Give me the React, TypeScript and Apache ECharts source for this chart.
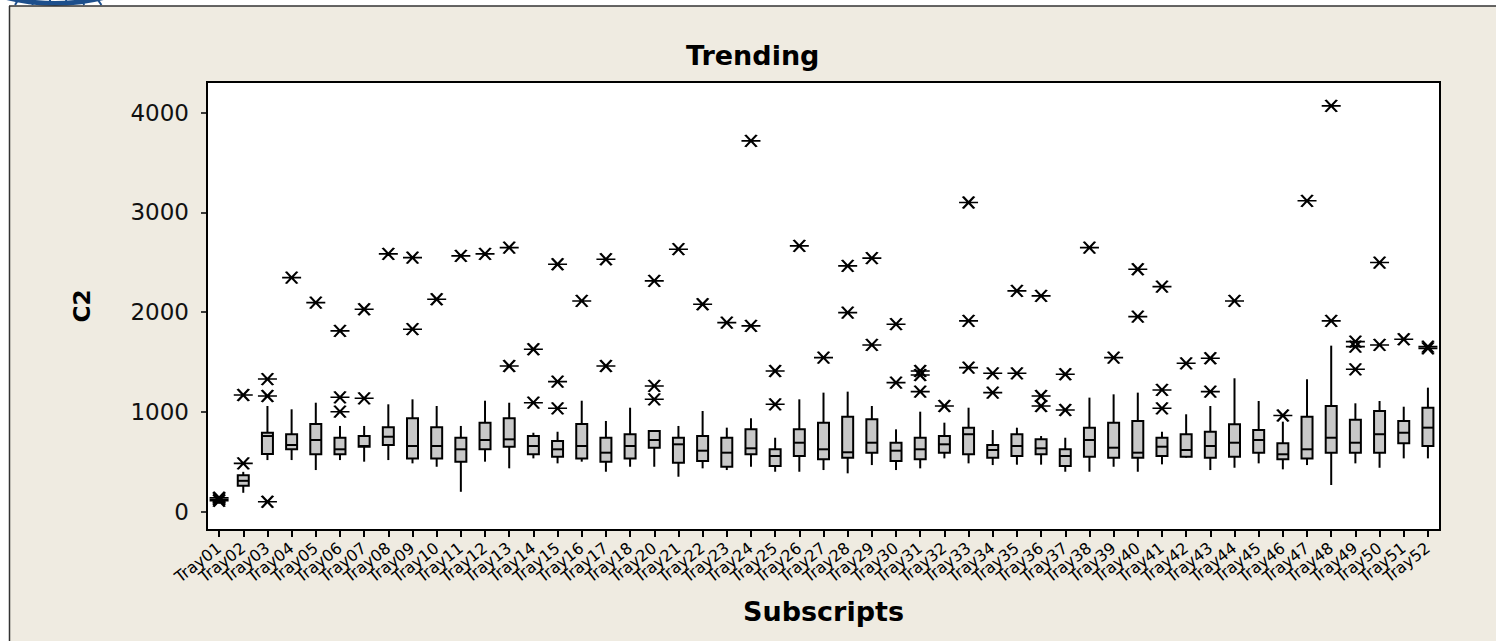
import React, { useEffect, useRef } from "react";
import * as echarts from "echarts";

const categories = [
  "Tray01", "Tray02", "Tray03", "Tray04", "Tray05", "Tray06", "Tray07", "Tray08", "Tray09", "Tray10",
  "Tray11", "Tray12", "Tray13", "Tray14", "Tray15", "Tray16", "Tray17", "Tray18", "Tray20", "Tray21",
  "Tray22", "Tray23", "Tray24", "Tray25", "Tray26", "Tray27", "Tray28", "Tray29", "Tray30", "Tray31",
  "Tray32", "Tray33", "Tray34", "Tray35", "Tray36", "Tray37", "Tray38", "Tray39", "Tray40", "Tray41",
  "Tray42", "Tray43", "Tray44", "Tray45", "Tray46", "Tray47", "Tray48", "Tray49", "Tray50", "Tray51",
  "Tray52",
];

const lows = [
  80, 190, 518, 518, 418, 518, 502, 518, 485, 451,
  200, 502, 435, 535, 485, 502, 401, 451, 451, 351,
  435, 418, 451, 401, 401, 418, 385, 468, 418, 435,
  535, 485, 468, 472, 472, 401, 401, 451, 401, 475,
  542, 418, 441, 485, 425, 468, 268, 485, 441, 535,
  535,
];
const q1s = [
  95, 260, 579, 626, 576, 576, 652, 669, 535, 535,
  502, 626, 652, 576, 552, 535, 502, 535, 642, 492,
  509, 451, 576, 458, 559, 525, 542, 592, 509, 525,
  592, 576, 542, 559, 576, 458, 552, 542, 542, 559,
  552, 542, 552, 592, 525, 535, 592, 592, 592, 686,
  659,
];
const medians = [
  105, 310, 759, 669, 719, 626, 659, 752, 659, 659,
  626, 719, 726, 659, 626, 659, 592, 659, 719, 676,
  612, 592, 636, 559, 692, 626, 596, 692, 612, 626,
  676, 777, 619, 659, 636, 559, 719, 642, 592, 652,
  619, 659, 692, 719, 576, 626, 742, 692, 777, 792,
  843,
];
const q3s = [
  115, 365, 792, 777, 880, 742, 759, 847, 937, 847,
  742, 893, 937, 759, 709, 880, 742, 777, 810, 742,
  759, 742, 826, 626, 826, 893, 953, 927, 692, 742,
  759, 843, 669, 777, 726, 626, 843, 893, 910, 742,
  777, 802, 876, 819, 686, 953, 1060, 923, 1010, 910,
  1043,
];
const highs = [
  125, 400, 1060, 1027, 1093, 860, 860, 1077, 1127, 1060,
  860, 1113, 1093, 792, 802, 1113, 910, 1043, 810, 860,
  1010, 843, 937, 742, 1127, 1194, 1204, 1060, 826, 1003,
  893, 1043, 819, 843, 759, 742, 1144, 1177, 1194, 802,
  977, 1060, 1338, 1110, 903, 1328, 1665, 1087, 1110, 1053,
  1244,
];
const outliers: number[][] = [
  [110, 125, 140], [485, 1170], [100, 1160, 1330], [2347], [2096],
  [1003, 1147, 1813], [1137, 2030], [2585], [1830, 2547], [2130],
  [2565], [2585], [1461, 2648], [1093, 1629], [1037, 1304, 2481],
  [2113], [1461, 2531], [], [1127, 1261, 2314], [2632],
  [2080], [1896], [1863, 3718], [1077, 1411], [2665],
  [1545], [1996, 2465], [1672, 2542], [1294, 1880], [1204, 1371, 1411],
  [1060], [1445, 1913, 3100], [1194, 1388], [1388, 2214], [1060, 1160, 2164],
  [1020, 1378], [2648], [1545], [1956, 2431], [1037, 1221, 2257],
  [1488], [1204, 1539], [2113], [], [965],
  [3117], [1913, 4069], [1428, 1655, 1705], [1672, 2498], [1729],
  [1638, 1655],
];

const yTicks = [0, 1000, 2000, 3000, 4000];

const STAR = "path://M0,6L20,6M4,0L16,12M4,12L16,0";

export default function App() {
  const ref = useRef<HTMLDivElement>(null);
  useEffect(() => {
    const chart = echarts.init(ref.current!, null, { renderer: "svg" });
    const boxData = categories.map((c, i) => [i, lows[i], q1s[i], medians[i], q3s[i], highs[i]]);
    const outlierData: number[][] = [];
    outliers.forEach((list, i) => list.forEach((v) => outlierData.push([i, v])));

    const logoLines = [18, 34, 50, 66, 82, 98].map((x) => ({
      type: "line",
      shape: { x1: x, y1: 0, x2: 55 + (x - 55) * 1.08, y2: 5 },
      style: { stroke: "#1d4f8c", lineWidth: 2 },
      silent: true,
    }));

    chart.setOption({
      animation: false,
      backgroundColor: "#efebe1",
      title: {
        text: "Trending",
        left: 686,
        top: 42,
        padding: 0,
        textStyle: { fontFamily: "DejaVu Sans", fontWeight: "bold", fontSize: 27, color: "#000" },
      },
      graphic: [
        { type: "rect", shape: { x: 0, y: 0, width: 1496, height: 6 }, style: { fill: "#ffffff" }, silent: true },
        { type: "rect", shape: { x: 0, y: 0, width: 9, height: 641 }, style: { fill: "#ffffff" }, silent: true },
        {
          type: "ring",
          shape: { cx: 55, cy: -194, r: 200, r0: 195 },
          style: { fill: "#1d4f8c" },
          silent: true,
        },
        ...logoLines,
        { type: "line", shape: { x1: 9, y1: 6, x2: 1496, y2: 6 }, style: { stroke: "#333", lineWidth: 1.5 }, silent: true },
        { type: "line", shape: { x1: 9.5, y1: 6, x2: 9.5, y2: 641 }, style: { stroke: "#333", lineWidth: 1.5 }, silent: true },
      ],
      grid: {
        left: 207,
        right: 56,
        top: 82,
        bottom: 111,
        show: true,
        backgroundColor: "#ffffff",
        borderColor: "#000",
        borderWidth: 2,
      },
      xAxis: {
        type: "category",
        data: categories,
        boundaryGap: true,
        name: "Subscripts",
        nameLocation: "middle",
        nameGap: 68,
        nameTextStyle: { fontFamily: "DejaVu Sans", fontWeight: "bold", fontSize: 27, color: "#000" },
        axisLine: { show: true, onZero: false, lineStyle: { color: "#000", width: 2 } },
        axisTick: { show: true, alignWithLabel: true, interval: 0, length: 7, lineStyle: { color: "#000", width: 2 } },
        axisLabel: {
          interval: 0,
          rotate: 38,
          margin: 16,
          fontFamily: "DejaVu Sans",
          fontSize: 16,
          color: "#000",
        },
        splitLine: { show: false },
      },
      yAxis: {
        type: "value",
        min: -183,
        max: 4308,
        name: "C2",
        nameLocation: "middle",
        nameRotate: 90,
        nameGap: 114,
        nameTextStyle: { fontFamily: "DejaVu Sans", fontWeight: "bold", fontSize: 23, color: "#000" },
        axisLine: { show: true, lineStyle: { color: "#000", width: 2 } },
        axisTick: { show: true, length: 6, customValues: yTicks, lineStyle: { color: "#000", width: 1.5 } },
        axisLabel: {
          customValues: yTicks,
          margin: 18,
          fontFamily: "DejaVu Sans",
          fontSize: 23,
          color: "#111",
          formatter: (v: number) => String(v),
        },
        splitLine: { show: false },
      },
      series: [
        {
          type: "custom",
          data: boxData,
          encode: { x: 0, y: [1, 2, 3, 4, 5] },
          silent: true,
          renderItem: (params: any, api: any) => {
            const i = api.value(0);
            const pLow = api.coord([i, api.value(1)]);
            const pQ1 = api.coord([i, api.value(2)]);
            const pMed = api.coord([i, api.value(3)]);
            const pQ3 = api.coord([i, api.value(4)]);
            const pHigh = api.coord([i, api.value(5)]);
            const hw = 5.5;
            const x = pQ1[0];
            const ls = { stroke: "#000", lineWidth: 2 };
            return {
              type: "group",
              children: [
                { type: "line", shape: { x1: x, y1: pHigh[1], x2: x, y2: pQ3[1] }, style: ls },
                { type: "line", shape: { x1: x, y1: pQ1[1], x2: x, y2: pLow[1] }, style: ls },
                {
                  type: "rect",
                  shape: { x: x - hw, y: pQ3[1], width: hw * 2, height: pQ1[1] - pQ3[1] },
                  style: { fill: "#c8c8c8", stroke: "#000", lineWidth: 2 },
                },
                { type: "line", shape: { x1: x - hw, y1: pMed[1], x2: x + hw, y2: pMed[1] }, style: ls },
              ],
            };
          },
        },
        {
          type: "scatter",
          data: outlierData,
          symbol: STAR,
          symbolSize: [19, 12],
          silent: true,
          itemStyle: { color: "rgba(0,0,0,0)", borderColor: "#000", borderWidth: 2, opacity: 1 },
          z: 3,
        },
      ],
    });
    return () => chart.dispose();
  }, []);
  return <div ref={ref} style={{ position: "fixed", left: 0, top: 0, width: 1496, height: 641 }} />;
}
